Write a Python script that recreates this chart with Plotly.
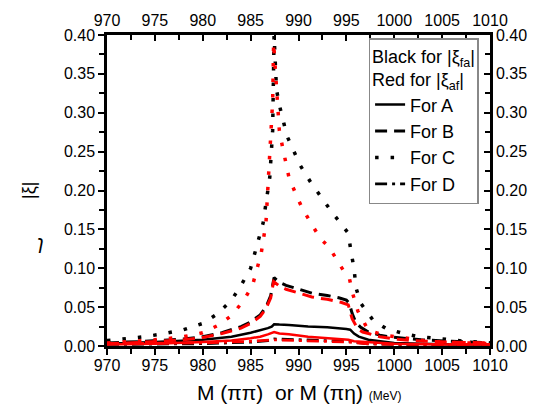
import plotly.graph_objects as go

# ---------------- data ----------------
# Curve C (dotted)
xC_black = [970, 972, 974, 976, 978, 980, 981.5, 983, 984, 985, 985.9, 986.3, 987.0, 987.3, 987.45,
            987.7, 988.0, 988.8, 990.2, 991.3, 993.5, 994.7, 995.2, 995.5, 995.8, 996.0, 996.5, 997.8,
            999.2, 1001, 1002.5, 1004.3, 1005.8, 1007.4, 1010]
yC_black = [0.007, 0.009, 0.012, 0.016, 0.021, 0.029, 0.041, 0.059, 0.078, 0.100, 0.138, 0.158, 0.217, 0.277, 0.400,
            0.330, 0.310, 0.270, 0.232, 0.210, 0.172, 0.153, 0.145, 0.120, 0.100, 0.075, 0.055, 0.033,
            0.022, 0.016, 0.012, 0.010, 0.008, 0.006, 0.004]

xC_red = [970, 972, 974, 976, 978, 980, 981.5, 983, 984.3, 985.2, 986.1, 986.6, 987.1, 987.3, 987.4,
          988.0, 988.3, 989.0, 989.7, 990.4, 991.3, 992.3, 993.2, 994.2, 994.7, 995.3, 995.6, 996.2,
          997.3, 999, 1001, 1003, 1005, 1007.5, 1010]
yC_red = [0.004, 0.005, 0.007, 0.009, 0.012, 0.017, 0.026, 0.039, 0.059, 0.078, 0.119, 0.158, 0.258, 0.315, 0.390,
          0.277, 0.258, 0.217, 0.196, 0.177, 0.158, 0.138, 0.127, 0.108, 0.097, 0.088, 0.070, 0.045,
          0.020, 0.014, 0.010, 0.007, 0.005, 0.004, 0.003]

# Curve B (dashed)
xB_black = [970, 974, 978, 980, 982, 984, 985, 986, 986.6, 987.1, 987.45, 988.0, 988.7, 990, 991.4, 993,
            994.2, 995.0, 995.3, 995.6, 996, 996.5, 997.3, 998.5, 999.4, 1001, 1002.8, 1006, 1010]
yB_black = [0.004, 0.006, 0.009, 0.012, 0.017, 0.025, 0.031, 0.040, 0.050, 0.065, 0.088, 0.082, 0.078, 0.073, 0.068, 0.065,
            0.062, 0.059, 0.055, 0.042, 0.030, 0.024, 0.018, 0.014, 0.012, 0.010, 0.008, 0.006, 0.004]

xB_red = [970, 974, 978, 980, 982, 984, 985, 986, 986.6, 987.1, 987.4, 988.0, 988.7, 990, 991.4, 993,
          994.5, 995.2, 995.6, 996.2, 996.7, 997.3, 998.5, 1000, 1002, 1006, 1010]
yB_red = [0.003, 0.005, 0.008, 0.011, 0.016, 0.023, 0.029, 0.038, 0.048, 0.062, 0.083, 0.077, 0.073, 0.068, 0.063, 0.060,
          0.056, 0.053, 0.035, 0.022, 0.018, 0.016, 0.012, 0.009, 0.007, 0.005, 0.004]

# Curve A (solid)
xA_black = [970, 975, 980, 983, 985, 986, 986.8, 987.2, 987.45, 988, 989, 991, 993, 995.0, 995.4, 995.8,
            996.3, 997.3, 998.5, 1000, 1003, 1006, 1010]
yA_black = [0.003, 0.005, 0.008, 0.012, 0.017, 0.020, 0.023, 0.025, 0.028, 0.0275, 0.027, 0.025, 0.024, 0.022, 0.021, 0.016,
            0.012, 0.008, 0.006, 0.004, 0.003, 0.002, 0.002]

xA_red = [970, 975, 980, 983, 985, 986, 986.8, 987.45, 988, 989, 991, 993, 995.2, 995.8, 997, 1000, 1005, 1010]
yA_red = [0.002, 0.003, 0.005, 0.007, 0.010, 0.012, 0.015, 0.018, 0.016, 0.015, 0.012, 0.010, 0.008, 0.006, 0.005, 0.003, 0.002, 0.002]

# Curve D (dash-dot)
xD_black = [970, 980, 985, 986.8, 987.45, 990, 993, 995.3, 997, 1000, 1010]
yD_black = [0.002, 0.003, 0.005, 0.007, 0.009, 0.008, 0.007, 0.006, 0.003, 0.002, 0.001]

xD_red = [970, 980, 985, 986.8, 987.45, 990, 993, 995.3, 997, 1000, 1010]
yD_red = [0.003, 0.004, 0.006, 0.007, 0.008, 0.007, 0.006, 0.005, 0.003, 0.002, 0.002]

legend_names = ["For A", "For B", "For C", "For D"]
x_ticks = [970, 975, 980, 985, 990, 995, 1000, 1005, 1010]
y_ticks = [0.00, 0.05, 0.10, 0.15, 0.20, 0.25, 0.30, 0.35, 0.40]

# ---------------- styles ----------------
DASH = {"A": "solid", "B": "12px,7px", "C": "3.5px,12px", "D": "12px,5px,3px,5px"}
WID = {"A": 2.5, "B": 3, "C": 3.5, "D": 2.8}
FONT = "Liberation Sans, Arial, sans-serif"

fig = go.Figure()

series = [
    ("A", "black", xA_black, yA_black), ("B", "black", xB_black, yB_black),
    ("C", "black", xC_black, yC_black), ("D", "black", xD_black, yD_black),
    ("A", "red", xA_red, yA_red), ("B", "red", xB_red, yB_red),
    ("C", "red", xC_red, yC_red), ("D", "red", xD_red, yD_red),
]
for key, col, xs, ys in series:
    fig.add_trace(go.Scatter(x=xs, y=ys, mode="lines", showlegend=False,
                             line=dict(color=col, width=WID[key], dash=DASH[key])))

# legend entries (black samples)
for key, name in zip(["A", "B", "C", "D"], legend_names):
    fig.add_trace(go.Scatter(x=[None], y=[None], mode="lines", name=name,
                             line=dict(color="black", width=WID[key], dash=DASH[key])))

# invisible trace for mirrored top/right axes
fig.add_trace(go.Scatter(x=[970, 1010], y=[0, 0.4], mode="markers", marker=dict(opacity=0),
                         xaxis="x2", yaxis="y2", showlegend=False, hoverinfo="skip"))

axis_common = dict(showgrid=False, zeroline=False, showline=True, linecolor="black", linewidth=2.5,
                   tickcolor="black", tickwidth=1.5, tickfont=dict(family=FONT, size=16, color="black"))

fig.update_layout(
    width=539, height=408,
    margin=dict(l=107, r=47, t=34, b=62),
    paper_bgcolor="white", plot_bgcolor="white",
    font=dict(family=FONT, color="black"),
    xaxis=dict(range=[970, 1010], tickvals=x_ticks, ticks="outside", ticklen=6, ticklabelstandoff=-3,
               minor=dict(dtick=2.5, tick0=970, ticks="outside", ticklen=5, tickcolor="black", tickwidth=1.5),
               **axis_common),
    xaxis2=dict(range=[970, 1010], tickvals=x_ticks, ticks="inside", ticklen=6, overlaying="x", side="top",
                minor=dict(dtick=2.5, tick0=970, ticks="inside", ticklen=5, tickcolor="black", tickwidth=1.5),
                **axis_common),
    yaxis=dict(range=[0, 0.4], tickvals=y_ticks, tickformat=".2f", ticks="outside", ticklen=6,
               minor=dict(dtick=0.025, tick0=0, ticks="outside", ticklen=5, tickcolor="black", tickwidth=1.5),
               **axis_common),
    yaxis2=dict(range=[0, 0.4], tickvals=y_ticks, tickformat=".2f", ticks="inside", ticklen=6, overlaying="y",
                side="right",
                minor=dict(dtick=0.025, tick0=0, ticks="inside", ticklen=5, tickcolor="black", tickwidth=1.5),
                **axis_common),
    legend=dict(x=0.683, y=0.99, xanchor="left", yanchor="top",
                bgcolor="white", bordercolor="#888888", borderwidth=1.5,
                font=dict(family=FONT, size=18, color="black"),
                title=dict(text="Black for |ξ<sub>fa</sub>|<br>Red for |ξ<sub>af</sub>|",
                           font=dict(family=FONT, size=18, color="black")),
                tracegroupgap=0, itemwidth=30),
    showlegend=True,
)

fig.add_annotation(text="|ξ|", xref="paper", yref="paper", x=(28 - 107) / 385, y=(346 - 190) / 312,
                   xanchor="center", yanchor="middle",
                   textangle=-90, showarrow=False, font=dict(family=FONT, size=18, color="black"))
fig.add_annotation(text="M (ππ)  or M (πη) <span style='font-size:12px'>(MeV)</span>",
                   xref="paper", yref="paper", x=(300 - 107) / 385, y=(346 - 393) / 312,
                   xanchor="center", yanchor="middle",
                   showarrow=False, font=dict(family=FONT, size=21, color="black"))
fig.add_annotation(text="<i>ɿ</i>", xref="paper", yref="paper", x=(40 - 107) / 385, y=(346 - 242) / 312,
                   xanchor="center", yanchor="middle",
                   showarrow=False, font=dict(family=FONT, size=20, color="black"))

fig.write_html("out.html")
